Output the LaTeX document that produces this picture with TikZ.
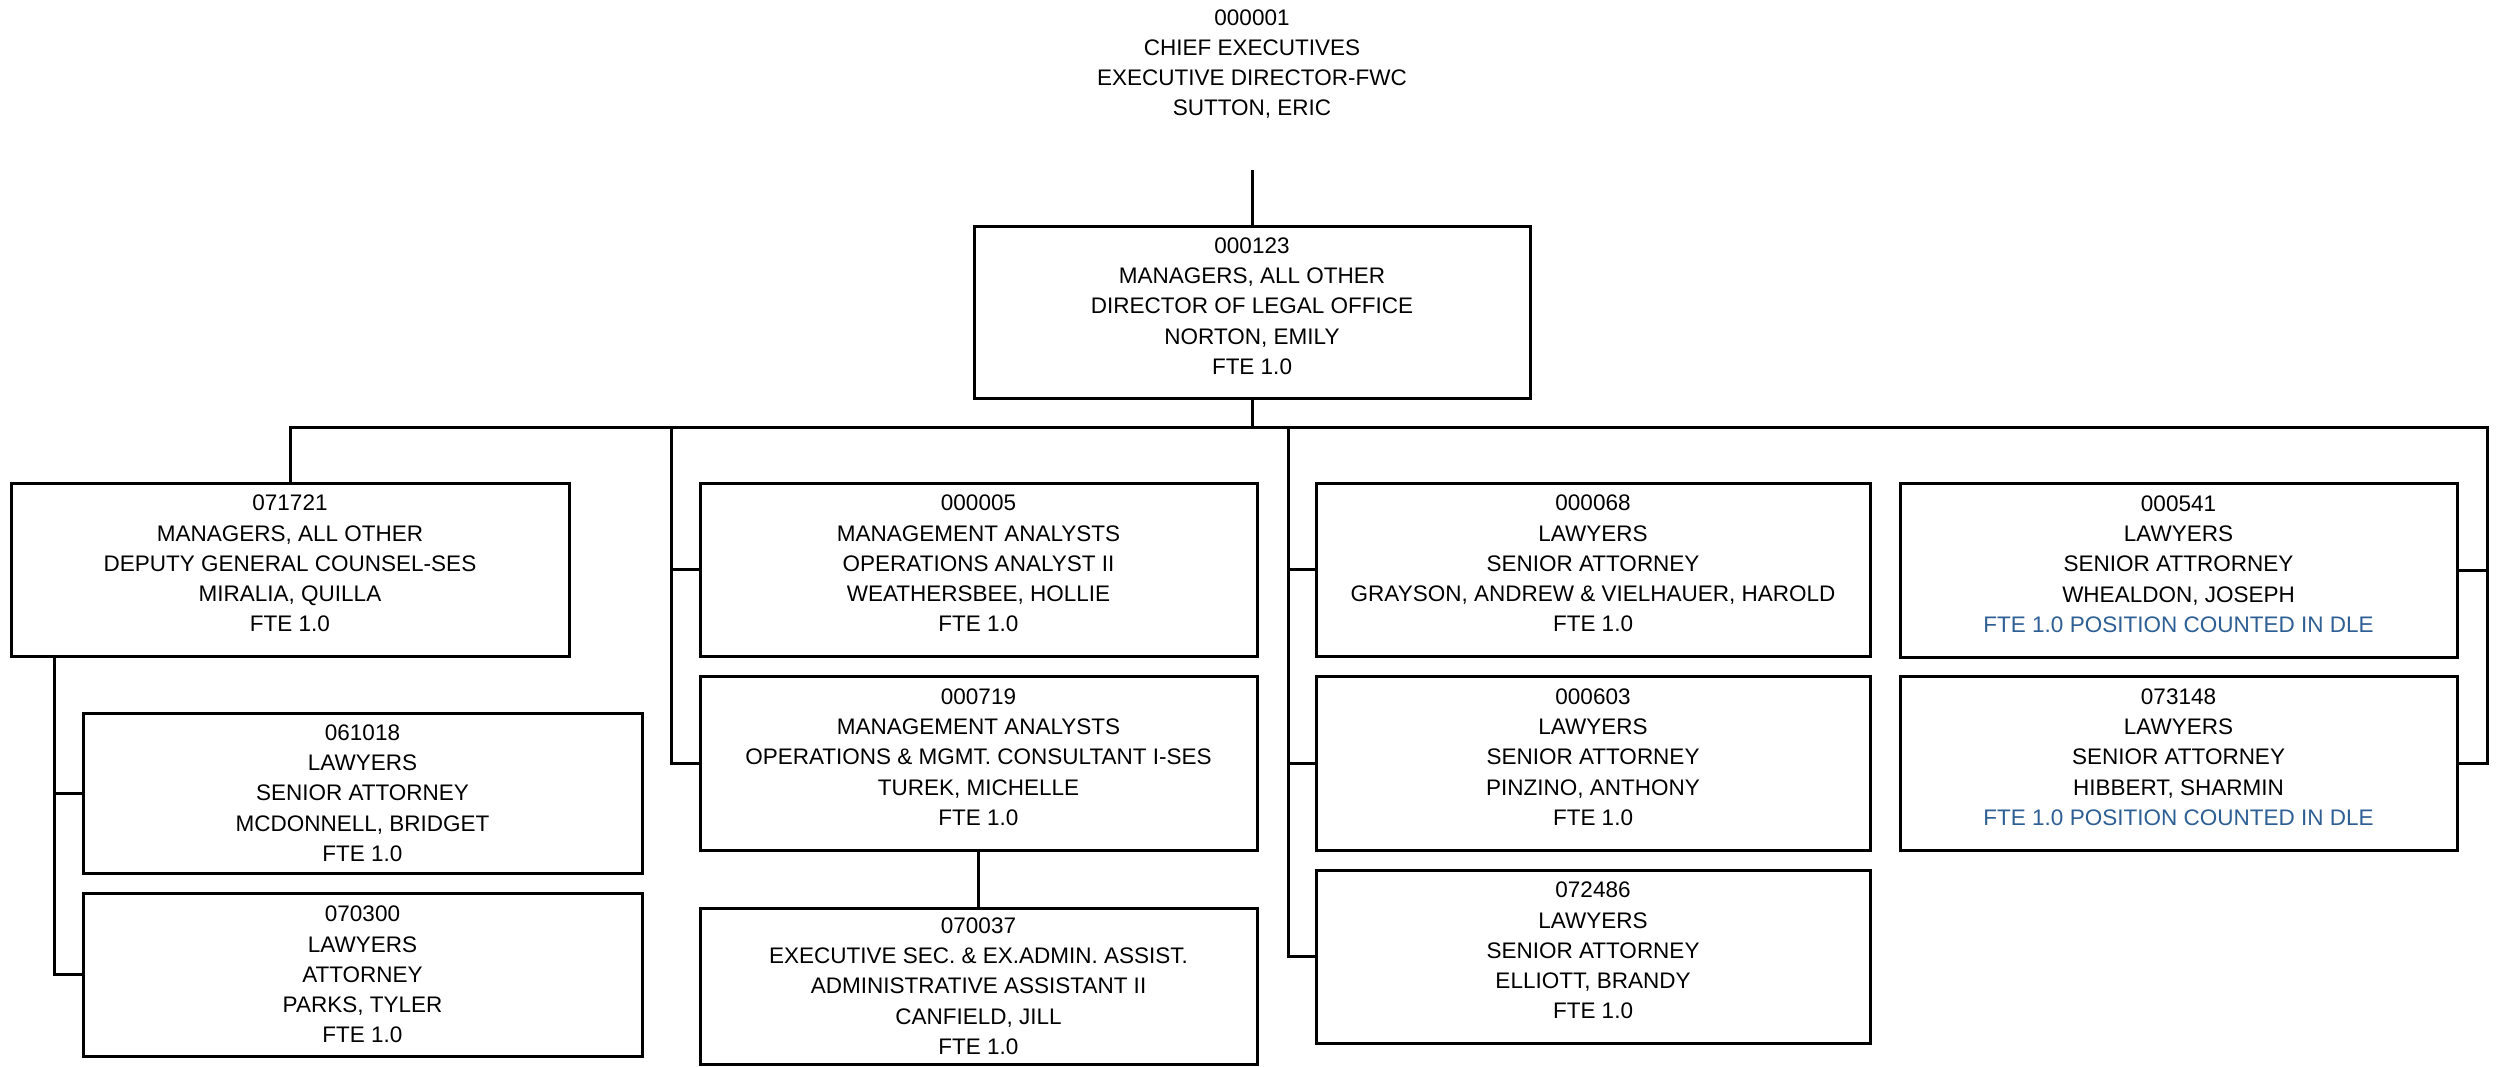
\documentclass[tikz,border=0pt]{standalone}
\usepackage{fontspec}
\setmainfont{Liberation Sans}
\definecolor{dlenote}{HTML}{2E5F94}
\begin{document}
\begin{tikzpicture}[x=1pt,y=-1pt,
  every node/.style={font=\fontsize{22.5}{30.2}\selectfont, align=center, inner sep=0pt},
  post/.style={draw, rectangle, line width=3pt, text depth=0pt},
  tallpost/.style={post, text depth=12pt},
  wire/.style={line width=3pt, line join=miter}
]
\useasboundingbox[fill=white] (0,0) rectangle (2497,1066);

% head of the office (no frame)
\node[text depth=0pt] (ceo) at (1252,62.5)
  {000001\\CHIEF EXECUTIVES\\EXECUTIVE DIRECTOR-FWC\\SUTTON, ERIC};

% director
\node[tallpost, minimum width=556, minimum height=172] (b0) at (1252,312)
  {000123\\MANAGERS, ALL OTHER\\DIRECTOR OF LEGAL OFFICE\\NORTON, EMILY\\FTE 1.0};

% column 1
\node[tallpost, minimum width=558, minimum height=173] (a0) at (290,569.5)
  {071721\\MANAGERS, ALL OTHER\\DEPUTY GENERAL COUNSEL-SES\\MIRALIA, QUILLA\\FTE 1.0};
\node[post, minimum width=559, minimum height=160] (a1) at (362.5,793)
  {061018\\LAWYERS\\SENIOR ATTORNEY\\MCDONNELL, BRIDGET\\FTE 1.0};
\node[post, minimum width=559, minimum height=163] (a2) at (362.5,974.5)
  {070300\\LAWYERS\\ATTORNEY\\PARKS, TYLER\\FTE 1.0};

% column 2
\node[tallpost, minimum width=557, minimum height=173] (m1) at (978.5,569.5)
  {000005\\MANAGEMENT ANALYSTS\\OPERATIONS ANALYST II\\WEATHERSBEE, HOLLIE\\FTE 1.0};
\node[tallpost, minimum width=557, minimum height=174] (m2) at (978.5,763)
  {000719\\MANAGEMENT ANALYSTS\\OPERATIONS \& MGMT. CONSULTANT I-SES\\TUREK, MICHELLE\\FTE 1.0};
\node[post, minimum width=557, minimum height=156] (m3) at (978.5,986)
  {070037\\EXECUTIVE SEC. \& EX.ADMIN. ASSIST.\\ADMINISTRATIVE ASSISTANT II\\CANFIELD, JILL\\FTE 1.0};

% column 3
\node[tallpost, minimum width=554, minimum height=173] (l1) at (1593,569.5)
  {000068\\LAWYERS\\SENIOR ATTORNEY\\GRAYSON, ANDREW \& VIELHAUER, HAROLD\\FTE 1.0};
\node[tallpost, minimum width=554, minimum height=174] (l2) at (1593,763)
  {000603\\LAWYERS\\SENIOR ATTORNEY\\PINZINO, ANTHONY\\FTE 1.0};
\node[tallpost, minimum width=554, minimum height=173] (l3) at (1593,956.5)
  {072486\\LAWYERS\\SENIOR ATTORNEY\\ELLIOTT, BRANDY\\FTE 1.0};

% column 4
\node[tallpost, minimum width=557, minimum height=174] (r1) at (2178.5,570)
  {000541\\LAWYERS\\SENIOR ATTRORNEY\\WHEALDON, JOSEPH\\{\color{dlenote}FTE 1.0 POSITION COUNTED IN DLE}};
\node[tallpost, minimum width=557, minimum height=174] (r2) at (2178.5,763)
  {073148\\LAWYERS\\SENIOR ATTORNEY\\HIBBERT, SHARMIN\\{\color{dlenote}FTE 1.0 POSITION COUNTED IN DLE}};

% routing points of the connector tree
\coordinate (stem) at (1252,170);
\coordinate (bus) at (0,427);
\coordinate (sp1) at (54,0);
\coordinate (sp2) at (671,427);
\coordinate (sp3) at (1288,427);
\coordinate (sp4) at (2487,427);

% connectors
\draw[wire] (stem) -- (stem |- b0.north);
\draw[wire] (b0.south) -- (b0.south |- bus);
\draw[wire] (a0.north) -- (a0.north |- bus) -- (sp4) -- (sp4 |- r2.east) -- (r2.east);
\draw[wire] (r1.east) -- (r1.east -| sp4);

\draw[wire] (a0.south -| sp1) -- (sp1 |- a2.west) -- (a2.west);
\draw[wire] (a1.west) -- (a1.west -| sp1);

\draw[wire] (sp2) -- (sp2 |- m2.west) -- (m2.west);
\draw[wire] (m1.west) -- (m1.west -| sp2);
\draw[wire] (m2.south) -- (m3.north);

\draw[wire] (sp3) -- (sp3 |- l3.west) -- (l3.west);
\draw[wire] (l1.west) -- (l1.west -| sp3);
\draw[wire] (l2.west) -- (l2.west -| sp3);
\end{tikzpicture}
\end{document}
